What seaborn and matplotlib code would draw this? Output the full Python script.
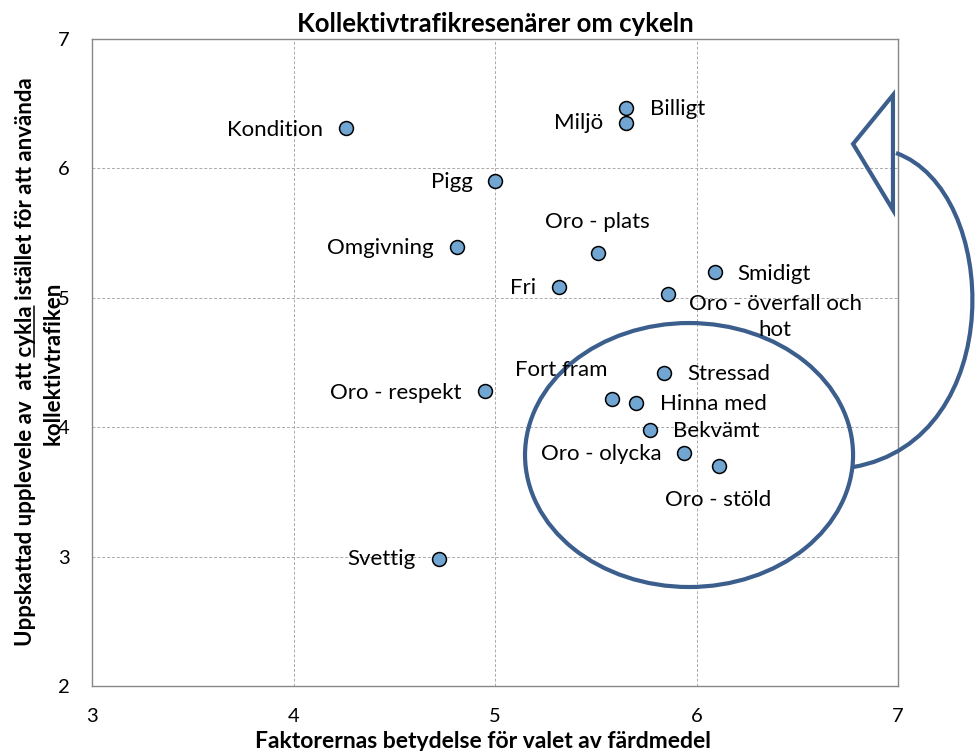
import matplotlib
matplotlib.use("Agg")
import matplotlib.pyplot as plt
import seaborn as sns
import pandas as pd
from matplotlib.patches import Ellipse, PathPatch, Polygon
from matplotlib.path import Path
from matplotlib.lines import Line2D

# ---------------- data ----------------
labels = ["Kondition", "Pigg", "Omgivning", "Billigt", "Miljö", "Oro - plats",
          "Fri", "Smidigt", "Oro - överfall och\nhot", "Oro - respekt", "Svettig",
          "Stressad", "Fort fram", "Hinna med", "Bekvämt", "Oro - olycka", "Oro - stöld"]
betydelse = [4.26, 5.00, 4.81, 5.65, 5.65, 5.51, 5.32, 6.09, 5.86, 4.95, 4.72,
             5.84, 5.58, 5.70, 5.77, 5.94, 6.11]
upplevelse = [6.31, 5.90, 5.39, 6.47, 6.35, 5.35, 5.08, 5.20, 5.03, 4.28, 2.98,
              4.42, 4.22, 4.19, 3.98, 3.80, 3.70]
x_ticks = [3, 4, 5, 6, 7]
y_ticks = [2, 3, 4, 5, 6, 7]

title = "Kollektivtrafikresenärer om cykeln"
xlabel = "Faktorernas betydelse för valet av färdmedel"
ylabel_line1 = "Uppskattad upplevele av  att cykla istället för att använda"
ylabel_line2 = "kollektivtrafiken"
underlined_word = "cykla"

df = pd.DataFrame({"label": labels, "x": betydelse, "y": upplevelse})

# label placement (pixel offsets dx, dy(down), horizontal alignment)
label_pos = {
    "Kondition": (-23, 2, "right"),
    "Pigg": (-22, 1, "right"),
    "Omgivning": (-23, 1, "right"),
    "Billigt": (24, 1, "left"),
    "Miljö": (-23, 0, "right"),
    "Oro - plats": (0, -31, "center"),
    "Fri": (-23, 1, "right"),
    "Smidigt": (23, 2, "left"),
    "Oro - överfall och\nhot": (107, 23, "center"),
    "Oro - respekt": (-23, 2, "right"),
    "Svettig": (-23, 0, "right"),
    "Stressad": (23, 1, "left"),
    "Fort fram": (-51, -29, "center"),
    "Hinna med": (24, 1, "left"),
    "Bekvämt": (23, 1, "left"),
    "Oro - olycka": (-23, 1, "right"),
    "Oro - stöld": (-1, 34, "center"),
}

# ---------------- style ----------------
sns.set_theme(style="white")
FONT = ["Lato", "DejaVu Sans"]
plt.rcParams["font.family"] = FONT
plt.rcParams["text.color"] = "black"
plt.rcParams["axes.labelcolor"] = "black"
PX = 0.72  # points per pixel at dpi 100

W, H = 977, 751
fig = plt.figure(figsize=(W / 100, H / 100), dpi=100)
ax = fig.add_axes([92 / W, 1 - 686 / H, (898 - 92) / W, (686 - 39) / H])

sns.scatterplot(data=df, x="x", y="y", ax=ax, s=100, color="#71A6D2",
                edgecolor="black", linewidth=1.1, zorder=5, legend=False)

ax.set_xlim(3, 7)
ax.set_ylim(2, 7)
ax.set_xticks(x_ticks)
ax.set_yticks(y_ticks)
ax.tick_params(axis="both", length=0, labelsize=14.5, colors="black")
ax.tick_params(axis="x", pad=16)
ax.tick_params(axis="y", pad=16)
ax.grid(True, color="#AAAAAA", linestyle=(0, (3, 2)), linewidth=0.7)
ax.set_axisbelow(True)
for sp in ax.spines.values():
    sp.set_color("#888888")
    sp.set_linewidth(1.0)

ax.set_title(title, fontsize=18.5, fontweight="bold", pad=5, color="black")
ax.set_xlabel(xlabel, fontsize=16.5, fontweight="bold", va="center", color="black")
ax.xaxis.set_label_coords((483 - 92) / (898 - 92), -(741 - 686) / (686 - 39))
ax.set_ylabel("")

for lab, xv, yv in zip(labels, betydelse, upplevelse):
    dx, dy, ha = label_pos[lab]
    ax.annotate(lab, (xv, yv), xytext=(dx * PX, -dy * PX), textcoords="offset points",
                ha=ha, va="center", fontsize=16, multialignment="center",
                linespacing=1.4, color="black", zorder=6)

# ---------------- hand-drawn callout ----------------
blue = "#3B5E8D"
ax.add_patch(Ellipse((5.963, 3.785), 1.628, 2.040, fill=False, edgecolor=blue,
                     linewidth=3.0, clip_on=False, zorder=4))
curve = Path([(6.777, 3.692), (7.551, 3.901), (7.506, 5.833), (6.990, 6.119)],
             [Path.MOVETO, Path.CURVE4, Path.CURVE4, Path.CURVE4])
ax.add_patch(PathPatch(curve, fill=False, edgecolor=blue, linewidth=3.0,
                       clip_on=False, zorder=4))
ax.add_patch(Polygon([(6.975, 6.567), (6.777, 6.189), (6.975, 5.679)], closed=True,
                     fill=False, edgecolor=blue, linewidth=3.0, joinstyle="miter",
                     clip_on=False, zorder=4))

# ---------------- y label (two lines, one word underlined) ----------------
YL_SIZE = 16
yl_kw = dict(fontsize=YL_SIZE, fontweight="bold", rotation=90, rotation_mode="anchor",
             ha="center", va="baseline", color="black")
t1 = fig.text(32 / W, 1 - 362 / H, ylabel_line1, **yl_kw)
t2 = fig.text(60 / W, 1 - 363 / H, ylabel_line2, **yl_kw)

fig.canvas.draw()
r = fig.canvas.get_renderer()
bb = t1.get_window_extent(r)
idx = ylabel_line1.index(underlined_word) + len(underlined_word)
meas_kw = dict(fontsize=YL_SIZE, fontweight="bold")
tmp_a = fig.text(0, 0, ylabel_line1[:idx], **meas_kw)
tmp_b = fig.text(0, 0, underlined_word, **meas_kw)
wa = tmp_a.get_window_extent(r).width
wb = tmp_b.get_window_extent(r).width
tmp_a.remove()
tmp_b.remove()
y_start = bb.y0 + wa - wb
y_end = bb.y0 + wa
x_line = 32 + 2.0
inv = fig.transFigure.inverted()
(fx0, fy0) = inv.transform((x_line, y_start))
(fx1, fy1) = inv.transform((x_line, y_end))
fig.add_artist(Line2D([fx0, fx1], [fy0, fy1], transform=fig.transFigure,
                      color="black", linewidth=1.1))

fig.savefig("out.png", dpi=100)
